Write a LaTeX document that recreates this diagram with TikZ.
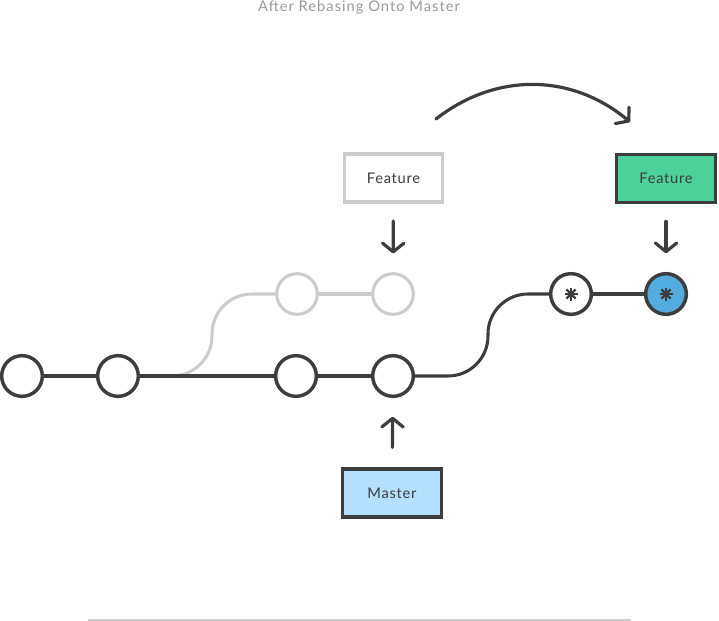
\documentclass[tikz,border=0pt]{standalone}
\usepackage{fontspec}
\setmainfont{Lato}
\usetikzlibrary{arrows.meta}
\definecolor{ink}{HTML}{3D3D3D}
\definecolor{ghost}{HTML}{CCCCCC}
\definecolor{caption}{HTML}{9A9A9A}
\definecolor{featgreen}{HTML}{4CD19B}
\definecolor{masterblue}{HTML}{B3E1FF}
\definecolor{tipblue}{HTML}{52ACE0}
\tikzstyle{CommitNode}=[circle, draw=ink, line width=2.6pt, fill=white, minimum size=30.5pt, inner sep=0pt]
\tikzstyle{GhostNode}=[CommitNode, draw=ghost, line width=2.3pt]
\tikzstyle{BranchNode}=[rectangle, draw=ink, line width=2.4pt, minimum width=74pt, minimum height=36pt, inner sep=0pt, font=\fontsize{11}{13}\selectfont\addfontfeature{LetterSpace=5}, text=ink]
\tikzstyle{GhostBranch}=[BranchNode, draw=ghost, fill=white]
\tikzstyle{HistEdge}=[draw=ink, line width=2.3pt]
\tikzstyle{GhostEdge}=[HistEdge, draw=ghost]
\tikzstyle{PointerEdge}=[-{Straight Barb[length=6.5pt, width=16pt, round]}, draw=ink, line width=2.4pt, line cap=round]

\begin{document}
\begin{tikzpicture}[x=0.75pt, y=-0.75pt]
\useasboundingbox (0,0) rectangle (719,621);

\node[text=caption, font=\fontsize{11}{13}\selectfont\addfontfeature{LetterSpace=7}](title) at (359,7) {After Rebasing Onto Master};

% commits
\node[CommitNode](c1) at (22,376) {};
\node[CommitNode](c2) at (118,376) {};
\node[CommitNode](c3) at (296,376) {};
\node[CommitNode](c4) at (393,376) {};
\node[GhostNode](g1) at (297,294) {};
\node[GhostNode](g2) at (393,294) {};
\node[CommitNode](f1) at (571,294) {};
\node[CommitNode, fill=tipblue](f2) at (666,294) {};

% branch labels
\node[GhostBranch](oldfeature) at (393.5,178) {Feature};
\node[BranchNode, fill=featgreen](newfeature) at (666,178.5) {Feature};
\node[BranchNode, fill=masterblue](master) at (392,493) {Master};

\coordinate (fork) at (150,376);
\coordinate (gbend) at (212,294);
\coordinate (mbend) at (488,294);
\coordinate (arcstart) at (436,119);
\coordinate (arcend) at (630,122);

\draw[GhostEdge, rounded corners=30pt](fork) -| (gbend) -- (g1);
\draw[GhostEdge](g1) -- (g2);

\draw[HistEdge](c1) -- (c2);
\draw[HistEdge](c2) -- (c3);
\draw[HistEdge](c3) -- (c4);
\draw[HistEdge, rounded corners=30pt](c4) -| (mbend) -- (f1);
\draw[HistEdge](f1) -- (f2);

% stars on rebased commits
\foreach \c in {f1, f2}
  \foreach \a in {0, 45, 90, 135}
    \draw[draw=ink, line width=1.6pt] (\c) ++(\a:6.5) -- ++(\a+180:13);

\draw[PointerEdge, shorten <=13pt, shorten >=14pt](oldfeature) -- (g2);
\draw[PointerEdge, shorten <=13pt, shorten >=14pt](newfeature) -- (f2);
\draw[PointerEdge, shorten <=15pt, shorten >=14pt](master) -- (c4);
\draw[PointerEdge](arcstart) to[out=38, in=140] (arcend);

\draw[draw=ghost, line width=0.8pt](88,620) -- (631,620);

\end{tikzpicture}
\end{document}
